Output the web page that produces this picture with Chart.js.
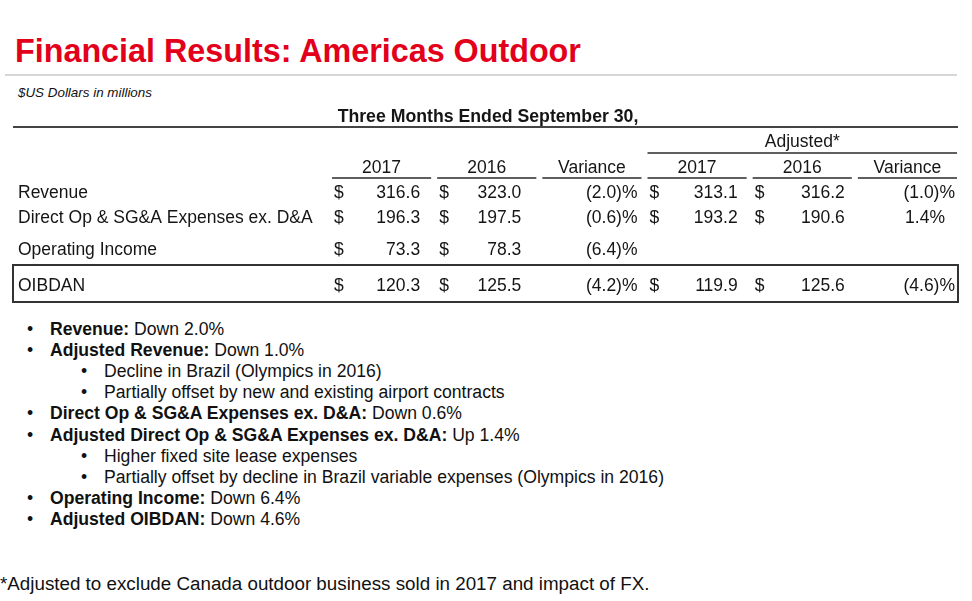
<!DOCTYPE html>
<html lang="en">
<head>
<meta charset="utf-8">
<title>Financial Results: Americas Outdoor</title>
<script src="https://cdn.jsdelivr.net/npm/chart.js@4.4.1/dist/chart.umd.min.js"></script>
<style>
  html, body { margin: 0; padding: 0; background: #fff; }
  #slide { position: relative; width: 972px; height: 601px; overflow: hidden; font-family: "Liberation Sans", Arial, Helvetica, sans-serif; color: #111; }
  #slide canvas { position: absolute; left: 0; top: 0; pointer-events: none; }
  .title { position: absolute; left: 15px; top: 35px; font-size: 32.3px; line-height: 1; font-weight: bold; color: #e2001a; white-space: nowrap; }
  .rule { position: absolute; left: 5px; top: 74px; width: 952px; height: 2px; background: #d6d6d6; }
  .units { position: absolute; left: 18px; top: 86px; font-size: 13.4px; line-height: 1; font-style: italic; white-space: nowrap; }
  #notes { position: absolute; left: 0; top: 318.5px; margin: 0; padding: 0; list-style: none; font-size: 17.6px; line-height: 21.2px; }
  #notes li { position: relative; padding-left: 50px; white-space: nowrap; }
  #notes li::before { content: '\2022'; position: absolute; left: 27px; }
  #notes li.sub { padding-left: 104px; }
  #notes li.sub::before { left: 81px; }
  .footnote { position: absolute; left: 0; top: 575px; font-size: 18.8px; line-height: 1; white-space: nowrap; }
</style>
</head>
<body>
<div id="slide">
  <div class="title">Financial Results: Americas Outdoor</div>
  <div class="rule"></div>
  <div class="units">$US Dollars in millions</div>
  <ul id="notes"></ul>
  <div class="footnote">*Adjusted to exclude Canada outdoor business sold in 2017 and impact of FX.</div>
  <canvas id="table" width="972" height="601"></canvas>
</div>
<script>
// table data
const rowLabels = ['Revenue', 'Direct Op & SG&A Expenses ex. D&A', 'Operating Income', 'OIBDAN'];
const columnKeys = ['rep2017', 'rep2016', 'repVar', 'adj2017', 'adj2016', 'adjVar'];
const columnHeaders = ['2017', '2016', 'Variance', '2017', '2016', 'Variance'];
const reported2017 = [316.6, 196.3, 73.3, 120.3];
const reported2016 = [323.0, 197.5, 78.3, 125.5];
const reportedVariance = [-2.0, -0.6, -6.4, -4.2];
const adjusted2017 = [313.1, 193.2, null, 119.9];
const adjusted2016 = [316.2, 190.6, null, 125.6];
const adjustedVariance = [-1.0, 1.4, null, -4.6];

const periodCaption = 'Three Months Ended September 30,';
const adjustedCaption = 'Adjusted*';

const bulletItems = [
  { level: 0, lead: 'Revenue:', text: ' Down 2.0%' },
  { level: 0, lead: 'Adjusted Revenue:', text: ' Down 1.0%' },
  { level: 1, lead: '', text: 'Decline in Brazil (Olympics in 2016)' },
  { level: 1, lead: '', text: 'Partially offset by new and existing airport contracts' },
  { level: 0, lead: 'Direct Op & SG&A Expenses ex. D&A:', text: ' Down 0.6%' },
  { level: 0, lead: 'Adjusted Direct Op & SG&A Expenses ex. D&A:', text: ' Up 1.4%' },
  { level: 1, lead: '', text: 'Higher fixed site lease expenses' },
  { level: 1, lead: '', text: 'Partially offset by decline in Brazil variable expenses (Olympics in 2016)' },
  { level: 0, lead: 'Operating Income:', text: ' Down 6.4%' },
  { level: 0, lead: 'Adjusted OIBDAN:', text: ' Down 4.6%' },
];

const columnSeries = [reported2017, reported2016, reportedVariance, adjusted2017, adjusted2016, adjustedVariance];
const isVariance = [false, false, true, false, false, true];

// bullets
const notesList = document.getElementById('notes');
bulletItems.forEach((item) => {
  const li = document.createElement('li');
  if (item.level === 1) li.className = 'sub';
  if (item.lead) {
    const b = document.createElement('b');
    b.textContent = item.lead;
    li.appendChild(b);
  }
  li.appendChild(document.createTextNode(item.text));
  notesList.appendChild(li);
});

// layout tweaks (pixels)
const rowNudge = [1.5, -4.5, -3.5, 1];
const valueInset = [14, 18, 7, 12, 10, 5];
const FONT = '"Liberation Sans", Arial, Helvetica, sans-serif';
const INK = '#151515';

const formatCell = (value, variance) => {
  if (!variance) return value.toFixed(1);
  return value < 0 ? `(${Math.abs(value).toFixed(1)})%` : `${value.toFixed(1)}%`;
};

const tablePlugin = {
  id: 'tableText',
  afterDatasetsDraw(chart) {
    const { ctx } = chart;
    const { x, y } = chart.scales;
    const band = x.getPixelForValue(1) - x.getPixelForValue(0);
    const bandLeft = (i) => x.getPixelForValue(i) - band / 2;
    const bandRight = (i) => x.getPixelForValue(i) + band / 2;
    const rowY = (i) => y.getPixelForValue(i) + rowNudge[i];

    ctx.save();
    ctx.fillStyle = INK;
    ctx.strokeStyle = '#2a2a2a';
    ctx.textBaseline = 'middle';

    const hline = (x1, x2, yy, w) => {
      ctx.lineWidth = w;
      ctx.beginPath();
      ctx.moveTo(x1, yy);
      ctx.lineTo(x2, yy);
      ctx.stroke();
    };

    // caption + top rule
    ctx.font = `bold 17.7px ${FONT}`;
    ctx.textAlign = 'center';
    ctx.fillText(periodCaption, 488, 117);
    ctx.strokeStyle = '#444';
    hline(13, bandRight(5) - 2, 127, 2);

    // adjusted group header
    ctx.strokeStyle = '#2a2a2a';
    ctx.font = `17.5px ${FONT}`;
    ctx.fillText(adjustedCaption, (bandLeft(3) + bandRight(5)) / 2, 142.5);
    hline(bandLeft(3) + 3, bandRight(5) - 3, 153, 1.5);

    // column headers
    columnHeaders.forEach((h, i) => {
      ctx.fillText(h, x.getPixelForValue(i), 168);
      hline(bandLeft(i) + 3, bandRight(i) - 3, 178, 1.5);
    });

    // row labels
    ctx.textAlign = 'left';
    rowLabels.forEach((label, r) => {
      ctx.fillText(label, 18, rowY(r));
    });

    // cells from each dataset's points
    chart.data.datasets.forEach((ds, c) => {
      const meta = chart.getDatasetMeta(c);
      meta.data.forEach((pt, j) => {
        const r = rowLabels.indexOf(ds.data[j].y);
        const value = columnSeries[c][r];
        const yy = pt.y + rowNudge[r];
        const right = pt.x + band / 2 - valueInset[c];
        if (!isVariance[c]) {
          ctx.textAlign = 'left';
          ctx.fillText('$', pt.x - band / 2 + 5, yy);
          ctx.textAlign = 'right';
          ctx.fillText(formatCell(value, false), right, yy);
        } else {
          ctx.textAlign = 'right';
          ctx.fillText(formatCell(value, true), value < 0 ? right : right - 10, yy);
        }
      });
    });

    // box around OIBDAN row
    const boxY = y.getPixelForValue(rowLabels.length - 1);
    ctx.strokeStyle = '#333';
    ctx.lineWidth = 2;
    ctx.strokeRect(13, boxY - 20, bandRight(5) - 2 - 13, 37);
    ctx.restore();
  },
};

// one dataset per column, one point per filled cell
const datasets = columnKeys.map((key, c) => ({
  label: key,
  data: rowLabels
    .filter((row, r) => columnSeries[c][r] !== null)
    .map((row) => ({ x: key, y: row })),
  showLine: false,
  pointRadius: 0,
  pointHoverRadius: 0,
}));

const table = new Chart(document.getElementById('table'), {
  type: 'line',
  data: { datasets },
  options: {
    responsive: false,
    animation: false,
    events: [],
    layout: { padding: { left: 329, right: 12, top: 176.5, bottom: 300.5 } },
    scales: {
      x: { type: 'category', labels: columnKeys, offset: true, display: false },
      y: { type: 'category', labels: rowLabels, offset: true, display: false },
    },
    plugins: {
      legend: { display: false },
      tooltip: { enabled: false },
    },
  },
  plugins: [tablePlugin],
});
</script>
</body>
</html>
